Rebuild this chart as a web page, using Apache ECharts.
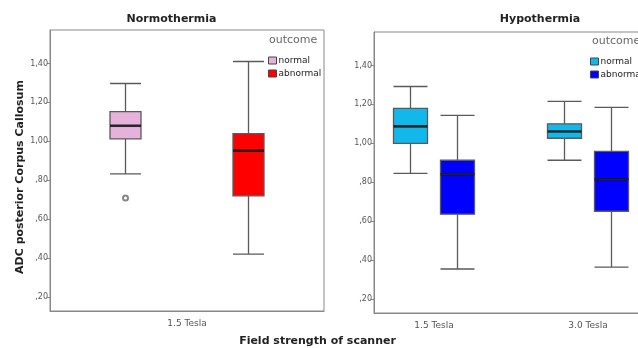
<!DOCTYPE html>
<html>
<head>
<meta charset="utf-8">
<title>ADC posterior Corpus Callosum</title>
<script src="https://cdn.jsdelivr.net/npm/echarts@6/dist/echarts.min.js"></script>
<style>
  html, body { margin: 0; padding: 0; background: #fff; }
  #chart { width: 638px; height: 348px; }
</style>
</head>
<body>
<div id="chart"></div>
<script>
// data: [min, Q1, median, Q3, max]
const leftCategories = ['1.5 Tesla']
const rightCategories = ['1.5 Tesla', '3.0 Tesla']

const normoNormal = [[0.833, 1.013, 1.080, 1.153, 1.297]]
const normoAbnormal = [[0.420, 0.720, 0.952, 1.039, 1.410]]
const normoNormalOutliers = [0.709]

const hypoNormal = [
  [0.846, 1.000, 1.087, 1.180, 1.292],
  [0.913, 1.026, 1.061, 1.100, 1.215]
]
const hypoAbnormal = [
  [0.354, 0.636, 0.841, 0.913, 1.144],
  [0.364, 0.651, 0.815, 0.959, 1.185]
]

const yMin = 0.128
const yMax = 1.572

const colors = {
  pink: '#e6b2dc',
  red: '#ff0000',
  cyan: '#12b8ea',
  blue: '#0000ff'
}

const fontFamily = 'DejaVu Sans'
const axisGrey = '#888'

// panel geometry
const plotH = 281
const leftPanel = { left: 50, top: 30, width: 274 }
const rightPanel = { left: 374, top: 32, width: 274 }
const rightBand = 154 // distance between the two scanner groups
const rightLabelLeft = 357
const leftShift = 61.5
const rightShift = 23.5

function medians(cats, boxes) {
  return cats.map((c, i) => [c, boxes[i][2]])
}

function yLabel(v) {
  return v.toFixed(2).replace('.', ',').replace(/^0/, '')
}

function gridAt(left, top, width, extra) {
  return Object.assign({ left: left, top: top, width: width, height: plotH, outerBoundsMode: 'none', containLabel: false }, extra || {})
}

function frameY(gridIndex) {
  return {
    type: 'value', gridIndex: gridIndex, min: yMin, max: yMax, splitNumber: 7,
    axisLine: { show: true, lineStyle: { color: axisGrey, width: 1 } },
    axisTick: { show: true, length: 3, lineStyle: { color: axisGrey } },
    axisLabel: {
      fontSize: 8, color: '#555', margin: 2, fontFamily: fontFamily,
      showMinLabel: false, showMaxLabel: false, formatter: yLabel
    },
    splitLine: { show: false }
  }
}

function hiddenY(gridIndex) {
  return { type: 'value', gridIndex: gridIndex, min: yMin, max: yMax, show: false, splitLine: { show: false } }
}

function hiddenX(gridIndex, cats) {
  return { type: 'category', gridIndex: gridIndex, data: cats, show: false }
}

function boxSeries(name, axis, boxes, color, width) {
  return {
    name: name, type: 'boxplot', xAxisIndex: axis, yAxisIndex: axis,
    data: boxes, boxWidth: [width, width], silent: true,
    itemStyle: { color: color, borderColor: '#5a5a5a', borderWidth: 1.3 }
  }
}

function medianSeries(axis, cats, boxes, width) {
  return {
    type: 'scatter', xAxisIndex: axis, yAxisIndex: axis, silent: true, z: 5,
    symbol: 'rect', symbolSize: [width, 2.6],
    itemStyle: { color: '#141414' },
    data: medians(cats, boxes)
  }
}

const chart = echarts.init(document.getElementById('chart'))

chart.setOption({
  animation: false,
  textStyle: { fontFamily: fontFamily },
  grid: [
    gridAt(leftPanel.left, leftPanel.top, leftPanel.width, { show: true, borderColor: axisGrey, borderWidth: 1 }),
    gridAt(rightPanel.left, rightPanel.top, rightPanel.width, { show: true, borderColor: axisGrey, borderWidth: 1 }),
    gridAt(rightLabelLeft, rightPanel.top, rightBand * 2),
    // one hidden grid per box group, so each group sits where it does in the picture
    gridAt(leftPanel.left + leftPanel.width / 2 - leftShift - 50, leftPanel.top, 100),
    gridAt(leftPanel.left + leftPanel.width / 2 + leftShift - 50, leftPanel.top, 100),
    gridAt(rightLabelLeft - rightShift, rightPanel.top, rightBand * 2),
    gridAt(rightLabelLeft + rightShift, rightPanel.top, rightBand * 2)
  ],
  xAxis: [
    {
      type: 'category', gridIndex: 0, data: leftCategories,
      axisLine: { lineStyle: { color: axisGrey } },
      axisTick: { alignWithLabel: true, length: 3, lineStyle: { color: axisGrey } },
      axisLabel: { fontSize: 9, color: '#555', margin: 8 }
    },
    {
      type: 'category', gridIndex: 1, data: [''],
      axisLine: { lineStyle: { color: axisGrey } },
      axisTick: { show: false }, axisLabel: { show: false }
    },
    {
      type: 'category', gridIndex: 2, data: rightCategories,
      axisLine: { show: false },
      axisTick: { alignWithLabel: true, length: 3, lineStyle: { color: axisGrey } },
      axisLabel: { fontSize: 9, color: '#555', margin: 8 }
    },
    hiddenX(3, leftCategories),
    hiddenX(4, leftCategories),
    hiddenX(5, rightCategories),
    hiddenX(6, rightCategories)
  ],
  yAxis: [
    frameY(0),
    frameY(1),
    hiddenY(2), hiddenY(3), hiddenY(4), hiddenY(5), hiddenY(6)
  ],
  legend: [
    {
      left: 268, top: 56, orient: 'vertical', padding: 0, itemGap: 4,
      icon: 'rect', itemWidth: 8, itemHeight: 7, selectedMode: false,
      itemStyle: { borderColor: '#444', borderWidth: 1 },
      textStyle: { fontSize: 9, color: '#222', padding: [0, 0, 0, -3] },
      data: [
        { name: 'normal', itemStyle: { color: colors.pink } },
        { name: 'abnormal', itemStyle: { color: colors.red } }
      ]
    },
    {
      left: 590, top: 57, orient: 'vertical', padding: 0, itemGap: 4,
      icon: 'rect', itemWidth: 8, itemHeight: 7, selectedMode: false,
      itemStyle: { borderColor: '#444', borderWidth: 1 },
      textStyle: { fontSize: 9, color: '#222', padding: [0, 0, 0, -3] },
      data: [
        { name: 'normal', itemStyle: { color: colors.cyan } },
        { name: 'abnormal', itemStyle: { color: colors.blue } }
      ]
    }
  ],
  graphic: [
    { type: 'text', x: 171.5, y: 19, style: { text: 'Normothermia', font: 'bold 11px "DejaVu Sans"', fill: '#222', textAlign: 'center', textVerticalAlign: 'middle' } },
    { type: 'text', x: 540, y: 19, style: { text: 'Hypothermia', font: 'bold 11px "DejaVu Sans"', fill: '#222', textAlign: 'center', textVerticalAlign: 'middle' } },
    { type: 'text', x: 269, y: 40, style: { text: 'outcome', font: '11px "DejaVu Sans"', fill: '#666', textAlign: 'left', textVerticalAlign: 'middle' } },
    { type: 'text', x: 592, y: 41, style: { text: 'outcome', font: '11px "DejaVu Sans"', fill: '#666', textAlign: 'left', textVerticalAlign: 'middle' } },
    { type: 'text', x: 20, y: 177, rotation: Math.PI / 2, style: { text: 'ADC posterior Corpus Callosum', font: 'bold 11px "DejaVu Sans"', fill: '#222', textAlign: 'center', textVerticalAlign: 'middle' } },
    { type: 'text', x: 317.5, y: 341, style: { text: 'Field strength of scanner', font: 'bold 11px "DejaVu Sans"', fill: '#222', textAlign: 'center', textVerticalAlign: 'middle' } }
  ],
  series: [
    boxSeries('normal', 3, normoNormal, colors.pink, 31),
    boxSeries('abnormal', 4, normoAbnormal, colors.red, 31),
    boxSeries('normal', 5, hypoNormal, colors.cyan, 34),
    boxSeries('abnormal', 6, hypoAbnormal, colors.blue, 34),
    medianSeries(3, leftCategories, normoNormal, 31),
    medianSeries(4, leftCategories, normoAbnormal, 31),
    medianSeries(5, rightCategories, hypoNormal, 34),
    medianSeries(6, rightCategories, hypoAbnormal, 34),
    {
      type: 'scatter', xAxisIndex: 3, yAxisIndex: 3, silent: true,
      symbol: 'emptyCircle', symbolSize: 5,
      itemStyle: { color: '#666', borderWidth: 1 },
      data: normoNormalOutliers.map(v => [leftCategories[0], v])
    }
  ]
})
</script>
</body>
</html>
